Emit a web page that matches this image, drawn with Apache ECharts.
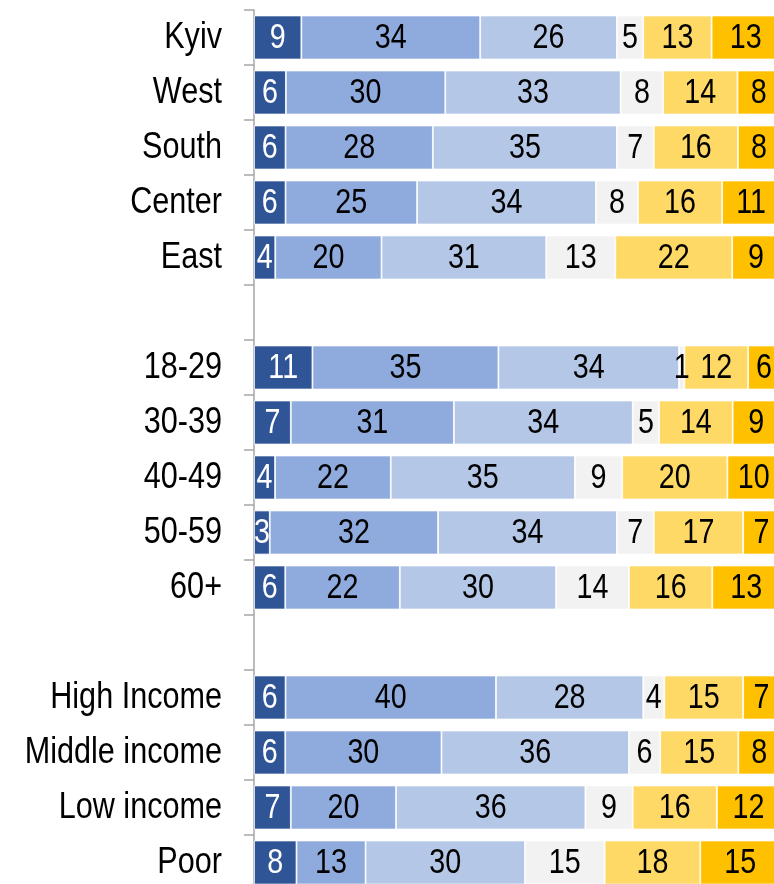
<!DOCTYPE html>
<html>
<head>
<meta charset="utf-8">
<script src="https://cdn.jsdelivr.net/npm/echarts@6/dist/echarts.min.js"></script>
<style>html,body{margin:0;padding:0;background:#fff;overflow:hidden}#c{width:774px;height:884px}</style>
</head>
<body>
<div id="c"></div>
<script>
const categories = ['Kyiv','West','South','Center','East',' ','18-29','30-39','40-49','50-59','60+','  ','High Income','Middle income','Low income','Poor'];
const seg1 = [9,6,6,6,4,null,11,7,4,3,6,null,6,6,7,8];
const seg2 = [34,30,28,25,20,null,35,31,22,32,22,null,40,30,20,13];
const seg3 = [26,33,35,34,31,null,34,34,35,34,30,null,28,36,36,30];
const seg4 = [5,8,7,8,13,null,1,5,9,7,14,null,4,6,9,15];
const seg5 = [13,14,16,16,22,null,12,14,20,17,16,null,15,15,16,18];
const seg6 = [13,8,8,11,9,null,6,9,10,7,13,null,7,8,12,15];

const segs = [seg1,seg2,seg3,seg4,seg5,seg6];
const colors = ['#2F5597','#8FAADC','#B4C7E7','#F2F2F2','#FFD966','#FFC000'];
const labelColors = ['#FFFFFF','#000000','#000000','#000000','#000000','#000000'];
const totals = categories.map((c,i)=>segs.reduce((a,s)=>a+(s[i]||0),0));
const FONT = "'Liberation Sans',Arial,sans-serif";

// stacked bars (normalised to 100 % per row)
const series = segs.map((s,k)=>({
  type:'bar', stack:'all', name:'S'+(k+1),
  barCategoryGap:'20%',
  itemStyle:{color:colors[k], borderColor:'#ffffff', borderWidth:0.8},
  label:{show:false},
  emphasis:{disabled:true},
  data:s.map((v,i)=> v==null ? '-' : v/totals[i]*100)
}));

// value labels (condensed text, placed via the value/category scales)
const labelData = [];
categories.forEach((c,i)=>{
  let acc = 0;
  segs.forEach((s,k)=>{
    const v = s[i];
    if (v==null) return;
    const w = v/totals[i]*100;
    labelData.push([acc + w/2, i, v, k]);
    acc += w;
  });
});
series.push({
  type:'custom', name:'labels', clip:false, silent:true, z:10,
  encode:{x:0, y:1},
  renderItem:(params, api)=>{
    const p = api.coord([api.value(0), api.value(1)]);
    const k = api.value(3);
    return {type:'text', x:p[0], y:p[1]+1, scaleX:0.82,
      style:{text:String(api.value(2)), fill:labelColors[k], font:"35px "+FONT, align:'center', verticalAlign:'middle'}};
  },
  data:labelData
});

// category labels (condensed text, placed via the category axis)
series.push({
  type:'custom', name:'cats', clip:false, silent:true, z:10,
  encode:{x:0, y:1},
  renderItem:(params, api)=>{
    const i = api.value(1);
    const p = api.coord([0, i]);
    return {type:'text', x:p[0]-32, y:p[1]+1, scaleX:0.85,
      style:{text:categories[i].trim(), fill:'#000', font:"36px "+FONT, align:'right', verticalAlign:'middle'}};
  },
  data:categories.map((c,i)=>[0,i])
});

const chart = echarts.init(document.getElementById('c'), null, {renderer:'canvas'});
chart.setOption({
  animation:false,
  grid:{left:254, width:526, top:10, height:880, containLabel:false, outerBoundsMode:'none'},
  xAxis:{type:'value', min:0, max:100, show:false},
  yAxis:{type:'category', inverse:true, data:categories,
    axisLine:{show:true, lineStyle:{color:'#A6A6A6', width:1.5}},
    axisTick:{show:true, length:10, lineStyle:{color:'#A6A6A6', width:1.5}},
    axisLabel:{show:false}
  },
  series:series
});
</script>
</body>
</html>
